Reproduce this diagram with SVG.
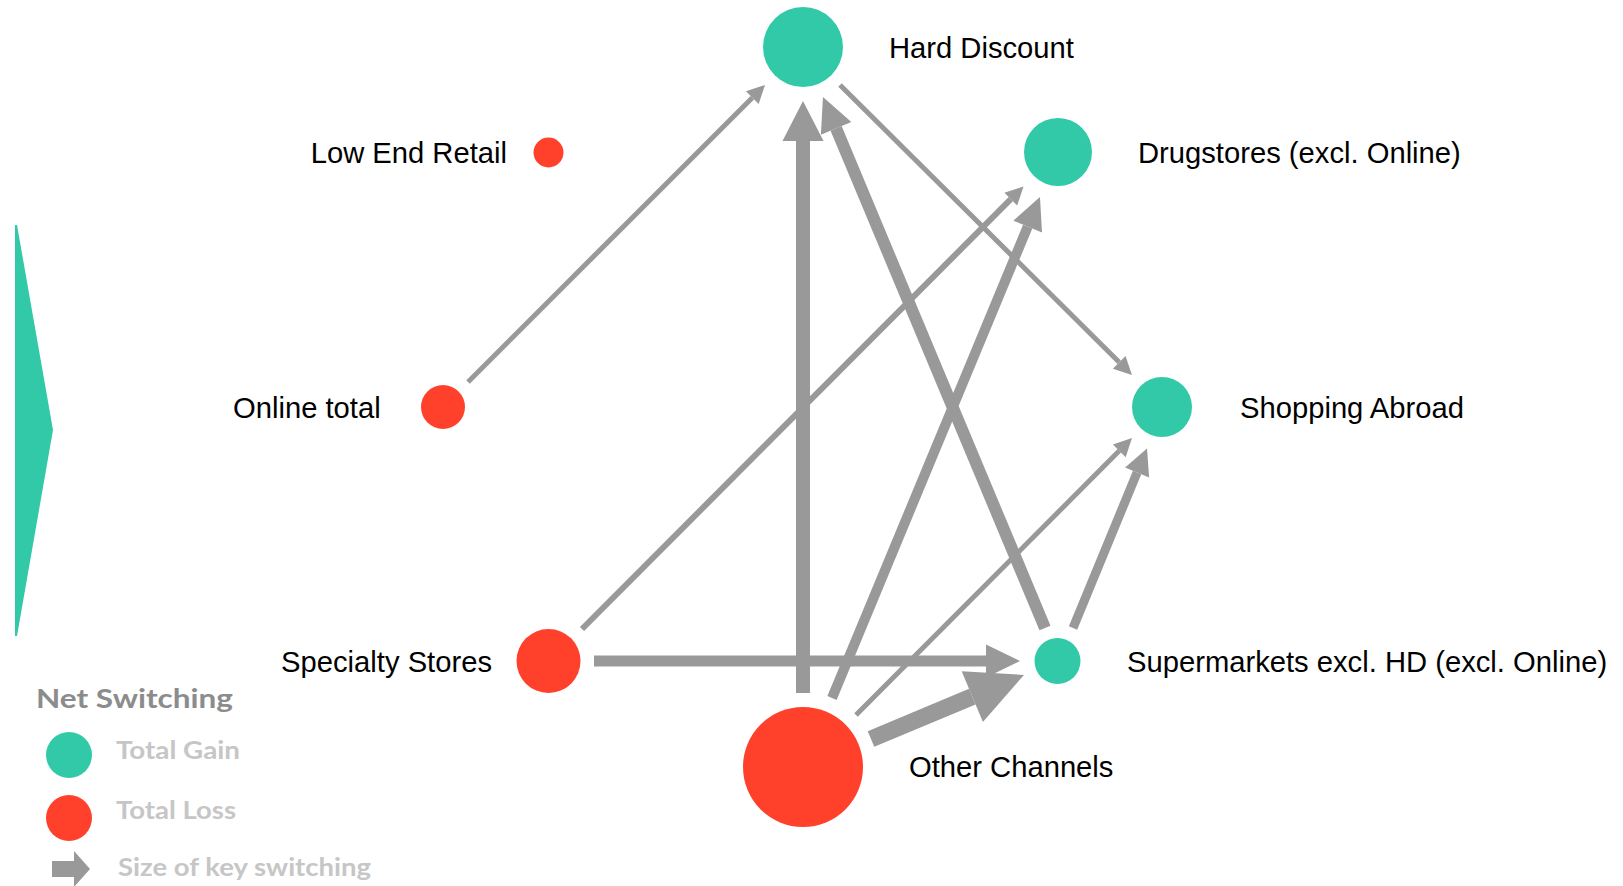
<svg xmlns="http://www.w3.org/2000/svg" width="1623" height="886" viewBox="0 0 1623 886">
<style>
.lbl{font-family:"Liberation Sans",Arial,sans-serif;font-size:29.2px;fill:#000}
.gain{fill:#31C9A7}
.loss{fill:#FF412C}
.c{stroke:#999999;fill:none;stroke-linecap:butt}
.lg{font-family:Lato,"Open Sans",sans-serif;font-weight:bold}
</style>
<defs>
<marker id="hS" markerUnits="userSpaceOnUse" markerWidth="18" markerHeight="18" refX="0" refY="9" orient="auto" overflow="visible"><path d="M0,0 L18,9 L0,18 Z" fill="#999999"/></marker>
<marker id="hM2" markerUnits="userSpaceOnUse" markerWidth="26" markerHeight="26" refX="0" refY="13" orient="auto" overflow="visible"><path d="M0,0 L26,13 L0,26 Z" fill="#999999"/></marker>
<marker id="hM" markerUnits="userSpaceOnUse" markerWidth="32" markerHeight="31" refX="0" refY="15.5" orient="auto" overflow="visible"><path d="M0,0 L32,15.5 L0,31 Z" fill="#999999"/></marker>
<marker id="hB" markerUnits="userSpaceOnUse" markerWidth="34" markerHeight="33" refX="0" refY="16.5" orient="auto" overflow="visible"><path d="M0,0 L34,16.5 L0,33 Z" fill="#999999"/></marker>
<marker id="hL" markerUnits="userSpaceOnUse" markerWidth="40" markerHeight="41" refX="0" refY="20.5" orient="auto" overflow="visible"><path d="M0,0 L40,20.5 L0,41 Z" fill="#999999"/></marker>
<marker id="hXL" markerUnits="userSpaceOnUse" markerWidth="56" markerHeight="55" refX="0" refY="27.5" orient="auto" overflow="visible"><path d="M0,0 L56,27.5 L0,55 Z" fill="#999999"/></marker>
</defs>
<rect width="1623" height="886" fill="#ffffff"/>
<polygon points="15,225 17,225 53,430 17,636 15,636" fill="#31C9A7"/>
<g id="connectors">
<line class="c" x1="468" y1="382" x2="752.3" y2="97.7" stroke-width="5" marker-end="url(#hS)"/>
<line class="c" x1="803" y1="693" x2="803" y2="141" stroke-width="14" marker-end="url(#hL)"/>
<line class="c" x1="1045" y1="628" x2="836.1" y2="128.4" stroke-width="12" marker-end="url(#hB)"/>
<line class="c" x1="840" y1="85" x2="1119.2" y2="362.3" stroke-width="5" marker-end="url(#hS)"/>
<line class="c" x1="582" y1="629" x2="1010.8" y2="199.2" stroke-width="6" marker-end="url(#hS)"/>
<line class="c" x1="832" y1="698" x2="1027.7" y2="226.6" stroke-width="10" marker-end="url(#hM)"/>
<line class="c" x1="594" y1="661" x2="986" y2="661" stroke-width="11" marker-end="url(#hB)"/>
<line class="c" x1="871" y1="739" x2="972.3" y2="696.6" stroke-width="17" marker-end="url(#hXL)"/>
<line class="c" x1="856" y1="715" x2="1119.3" y2="450.8" stroke-width="5" marker-end="url(#hS)"/>
<line class="c" x1="1073" y1="628" x2="1137.1" y2="472.5" stroke-width="9" marker-end="url(#hM2)"/>
</g>
<g id="hard-discount"><circle class="gain" cx="803" cy="47" r="40"/><text class="lbl" x="889" y="58">Hard Discount</text></g>
<g id="low-end-retail"><circle class="loss" cx="548.5" cy="152.5" r="15"/><text class="lbl" x="507" y="163" text-anchor="end">Low End Retail</text></g>
<g id="drugstores"><circle class="gain" cx="1058" cy="152" r="34"/><text class="lbl" x="1138" y="163">Drugstores (excl. Online)</text></g>
<g id="online-total"><circle class="loss" cx="443" cy="407" r="22"/><text class="lbl" x="233" y="418">Online total</text></g>
<g id="shopping-abroad"><circle class="gain" cx="1162" cy="407" r="30"/><text class="lbl" x="1240" y="418">Shopping Abroad</text></g>
<g id="specialty-stores"><circle class="loss" cx="548.5" cy="661" r="32"/><text class="lbl" x="492" y="672" text-anchor="end">Specialty Stores</text></g>
<g id="supermarkets"><circle class="gain" cx="1057.5" cy="661" r="23"/><text class="lbl" x="1127" y="672">Supermarkets excl. HD (excl. Online)</text></g>
<g id="other-channels"><circle class="loss" cx="803" cy="767" r="60"/><text class="lbl" x="909" y="777">Other Channels</text></g>
<g id="legend">
<text class="lg" x="36" y="708" font-size="27" fill="#8c8c8c" textLength="197" lengthAdjust="spacingAndGlyphs">Net Switching</text>
<circle class="gain" cx="69" cy="755" r="23"/>
<text class="lg" x="116" y="759" font-size="24" fill="#c6c6c6" textLength="124" lengthAdjust="spacingAndGlyphs">Total Gain</text>
<circle class="loss" cx="69" cy="818" r="23"/>
<text class="lg" x="116" y="819" font-size="24" fill="#c6c6c6" textLength="120" lengthAdjust="spacingAndGlyphs">Total Loss</text>
<polygon points="52,861 74,861 74,851 90,869 74,887 74,877 52,877" fill="#999999"/>
<text class="lg" x="118" y="876" font-size="24" fill="#c6c6c6" textLength="253" lengthAdjust="spacingAndGlyphs">Size of key switching</text>
</g>
</svg>
